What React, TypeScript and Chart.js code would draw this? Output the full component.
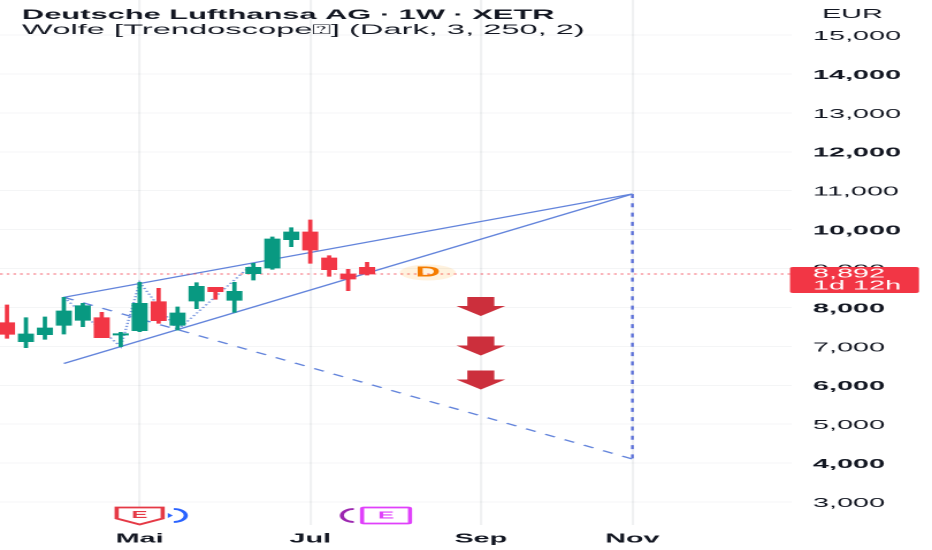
import React, { useEffect, useRef } from "react";
import { Chart, registerables } from "chart.js";

Chart.register(...registerables);

const candleIndex = [0, 1, 2, 3, 4, 5, 6, 7, 8, 9, 10, 11, 12, 13, 14, 15, 16, 17, 18, 19];
const opens = [7609, 7120, 7300, 7540, 7669, 7737, 7292, 7403, 8148, 7540, 8165, 8517, 8182, 8868, 9013, 9741, 9938, 9270, 8859, 9030];
const closes = [7309, 7317, 7472, 7908, 8045, 7223, 7326, 8105, 7660, 7857, 8542, 8405, 8414, 9030, 9758, 9938, 9476, 8970, 8731, 8859];
const highs = [8063, 7737, 7754, 8260, 8105, 7874, 7360, 8645, 8491, 8011, 8636, 8517, 8645, 9133, 9810, 10050, 10247, 9330, 8979, 9159];
const lows = [7206, 6966, 7180, 7317, 7506, 7223, 6992, 7377, 7591, 7420, 7968, 8208, 7874, 8705, 8979, 9561, 9133, 8799, 8431, 8833];

const monthTickIndex = [7, 16, 25, 33];
const monthTickLabels = ["Mai", "Jul", "Sep", "Nov"];
const priceTicks = [3000, 4000, 5000, 6000, 7000, 8000, 9000, 10000, 11000, 12000, 13000, 14000, 15000];
const boldPriceTicks = [14000, 12000, 10000, 8000, 6000, 4000];

const upperWedge = [{ x: 3, y: 8260 }, { x: 33, y: 10915 }];
const lowerWedge = [{ x: 3, y: 6560 }, { x: 33, y: 10915 }];
const targetLine = [{ x: 3, y: 8260 }, { x: 33, y: 4106 }];
const targetDrop = [{ x: 33, y: 10915 }, { x: 33, y: 4106 }];
const zigzag = [
  { x: 3, y: 8260 },
  { x: 6, y: 6992 },
  { x: 7, y: 8645 },
  { x: 9, y: 7420 },
  { x: 13, y: 9133 },
];
const lastPrice = 8892;
const priceLineLevel = 8860;
const arrowIndex = 25;
const arrowValues = [8024, 7009, 6136];

const title1 = "Deutsche Lufthansa AG · 1W · XETR";
const title2 = "Wolfe [Trendoscope\u2370] (Dark, 3, 250, 2)";
const currency = "EUR";
const countdown = "1d 12h";

const CANVAS_W = 405;
const STRETCH = 932 / CANVAS_W;
const X_MIN = -0.369;
const X_MAX = 41.42;
const Y_MIN = 2410;
const Y_MAX = 15899;
const GREEN = "#089981";
const RED = "#F23645";
const BLUE = "#6384db";
const FONT = '"Liberation Sans", Arial, sans-serif';

const dx = (px: number) => px / STRETCH;

const overlay = {
  id: "overlay",
  afterDraw(chart: any) {
    const { ctx, scales } = chart;
    const x = scales.x;
    const y = scales.y;

    // Titles
    ctx.save();
    ctx.textBaseline = "middle";
    ctx.textAlign = "left";
    ctx.fillStyle = "#131722";
    ctx.font = `bold 13.4px ${FONT}`;
    ctx.fillText(title1, dx(22), 15.5);
    ctx.font = `14.2px ${FONT}`;
    ctx.fillText(title2, dx(22), 30);
    ctx.font = `12.5px ${FONT}`;
    ctx.fillText(currency, dx(822), 14.5);

    // D badge
    const dX = x.getPixelForValue(22.2);
    const dY = 272.5;
    ctx.fillStyle = "rgba(255,152,0,0.13)";
    ctx.beginPath();
    ctx.ellipse(dX, dY, dx(28), 8, 0, 0, Math.PI * 2);
    ctx.fill();
    ctx.fillStyle = "#f57c00";
    ctx.textAlign = "center";
    ctx.font = `bold 15px ${FONT}`;
    ctx.fillText("D", dX, dY);

    // Arrows
    ctx.fillStyle = "#cc2f3c";
    const ax = x.getPixelForValue(arrowIndex);
    arrowValues.forEach((v) => {
      const c = y.getPixelForValue(v);
      ctx.beginPath();
      ctx.moveTo(ax - dx(13.5), c - 9.5);
      ctx.lineTo(ax + dx(13.5), c - 9.5);
      ctx.lineTo(ax + dx(13.5), c - 0.5);
      ctx.lineTo(ax + dx(24.5), c - 0.5);
      ctx.lineTo(ax, c + 9.5);
      ctx.lineTo(ax - dx(24.5), c - 0.5);
      ctx.lineTo(ax - dx(13.5), c - 0.5);
      ctx.closePath();
      ctx.fill();
    });

    // Last price label
    ctx.fillStyle = RED;
    ctx.beginPath();
    ctx.roundRect(dx(790), 267, dx(129), 26, 1.5);
    ctx.fill();
    ctx.fillStyle = "#ffffff";
    ctx.textAlign = "left";
    ctx.font = `12.5px ${FONT}`;
    ctx.fillText(lastPrice.toLocaleString("en-US"), dx(813), 274);
    ctx.fillText(countdown, dx(813), 286);

    // Earnings badges
    const baseY = 515.5;
    const redX = x.getPixelForValue(7);
    const purpleX = x.getPixelForValue(20);
    ctx.lineWidth = 1.8;

    // blue circle (behind the red badge)
    ctx.strokeStyle = "#2962ff";
    const blueX = x.getPixelForValue(8.8);
    ctx.beginPath();
    ctx.ellipse(blueX, baseY, dx(12), 6.5, 0, -Math.PI / 2, Math.PI / 2);
    ctx.stroke();
    ctx.fillStyle = "#2962ff";
    ctx.beginPath();
    ctx.moveTo(blueX - dx(6), baseY - 2.5);
    ctx.lineTo(blueX - dx(1), baseY);
    ctx.lineTo(blueX - dx(6), baseY + 2.5);
    ctx.closePath();
    ctx.fill();

    // red pentagon badge
    ctx.strokeStyle = "#e53945";
    ctx.fillStyle = "#ffffff";
    ctx.beginPath();
    ctx.moveTo(redX - dx(23), baseY - 8);
    ctx.lineTo(redX + dx(23), baseY - 8);
    ctx.lineTo(redX + dx(23), baseY + 3);
    ctx.lineTo(redX, baseY + 9);
    ctx.lineTo(redX - dx(23), baseY + 3);
    ctx.closePath();
    ctx.fill();
    ctx.stroke();
    ctx.fillStyle = "#e53945";
    ctx.textAlign = "center";
    ctx.font = `bold 10.5px ${FONT}`;
    ctx.fillText("E", redX, baseY - 0.5);

    // purple circle
    ctx.strokeStyle = "#9c27b0";
    const pX = x.getPixelForValue(18.3);
    ctx.beginPath();
    ctx.ellipse(pX, baseY, dx(12), 6.5, 0, Math.PI / 2, (3 * Math.PI) / 2);
    ctx.stroke();

    // magenta badge
    ctx.strokeStyle = "#e040fb";
    ctx.fillStyle = "#ffffff";
    ctx.beginPath();
    ctx.roundRect(purpleX - dx(24), baseY - 8, dx(48), 16, 1);
    ctx.fill();
    ctx.stroke();
    ctx.fillStyle = "#e040fb";
    ctx.fillText("E", purpleX, baseY);
    ctx.restore();
  },
};

export default function App() {
  const ref = useRef<HTMLCanvasElement>(null);

  useEffect(() => {
    document.body.style.margin = "0";
    document.body.style.background = "#ffffff";
    const wicks = candleIndex.map((i) => ({ x: i, y: [lows[i], highs[i]] }));
    const bodies = candleIndex.map((i) => ({ x: i, y: [opens[i], closes[i]] }));
    const candleColors = candleIndex.map((i) => (closes[i] >= opens[i] ? GREEN : RED));
    const lineBase = { type: "line", pointRadius: 0, borderWidth: 1.2, order: 3, fill: false, tension: 0 };

    const chart = new Chart(ref.current as HTMLCanvasElement, {
      type: "bar",
      data: {
        datasets: [
          { ...lineBase, label: "Last price", data: [{ x: X_MIN, y: priceLineLevel }, { x: X_MAX, y: priceLineLevel }], borderColor: "rgba(242,54,69,0.75)", borderDash: [1.2, 1.7], borderWidth: 1 },
          { ...lineBase, label: "Upper wedge", data: upperWedge, borderColor: BLUE },
          { ...lineBase, label: "Lower wedge", data: lowerWedge, borderColor: BLUE },
          { ...lineBase, label: "Target", data: targetLine, borderColor: BLUE, borderDash: [5, 5] },
          { ...lineBase, label: "Drop", data: targetDrop, borderColor: "#5a6fd8", borderDash: [4, 5.3], borderWidth: 1.2 },
          { ...lineBase, label: "Zigzag", data: zigzag, borderColor: "#7f9be0", borderDash: [1.2, 1.8], borderWidth: 1.2 },
          { label: "Wicks", data: wicks, backgroundColor: candleColors, barThickness: 1.2, grouped: false, order: 2 },
          { label: "Bodies", data: bodies, backgroundColor: candleColors, barThickness: 6.3, grouped: false, order: 1 },
        ] as any,
      },
      options: {
        responsive: false,
        animation: false,
        devicePixelRatio: 2,
        layout: { padding: 0 },
        plugins: { legend: { display: false }, tooltip: { enabled: false } },
        scales: {
          x: {
            type: "linear",
            offset: false,
            min: X_MIN,
            max: X_MAX,
            border: { display: false },
            grid: { color: "rgba(40,50,70,0.07)", lineWidth: 1.1, drawTicks: false, offset: false },
            afterBuildTicks: (s: any) => {
              s.ticks = monthTickIndex.map((value) => ({ value }));
            },
            afterFit: (s: any) => {
              s.height = 25;
              s.paddingLeft = 0;
              s.paddingRight = 0;
            },
            ticks: {
              autoSkip: false,
              maxRotation: 0,
              padding: 6.5,
              color: "#131722",
              font: { family: FONT, size: 12.5, weight: "bold" },
              callback: (v: any) => monthTickLabels[monthTickIndex.indexOf(v)] ?? "",
            },
          },
          y: {
            type: "linear",
            position: "right",
            min: Y_MIN,
            max: Y_MAX,
            border: { display: false },
            grid: { color: "rgba(40,50,70,0.05)", lineWidth: 1, drawTicks: false },
            afterBuildTicks: (s: any) => {
              s.ticks = priceTicks.map((value) => ({ value }));
            },
            afterFit: (s: any) => {
              s.width = dx(140);
              s.paddingTop = 0;
              s.paddingBottom = 0;
            },
            ticks: {
              autoSkip: false,
              padding: dx(21),
              labelOffset: 1.5,
              color: "#131722",
              font: (c: any) => ({
                family: FONT,
                size: 12.5,
                weight: boldPriceTicks.includes(c.tick?.value) ? "bold" : "normal",
              }),
              callback: (v: any) => Number(v).toLocaleString("en-US"),
            },
          },
        },
      } as any,
      plugins: [overlay],
    });
    return () => chart.destroy();
  }, []);

  return (
    <div
      style={{
        position: "fixed",
        left: 0,
        top: 0,
        width: CANVAS_W,
        height: 550,
        transformOrigin: "left top",
        transform: `scaleX(${STRETCH})`,
        filter: "blur(0.3px)",
        background: "#ffffff",
      }}
    >
      <canvas ref={ref} width={CANVAS_W} height={550} style={{ display: "block" }} />
    </div>
  );
}
